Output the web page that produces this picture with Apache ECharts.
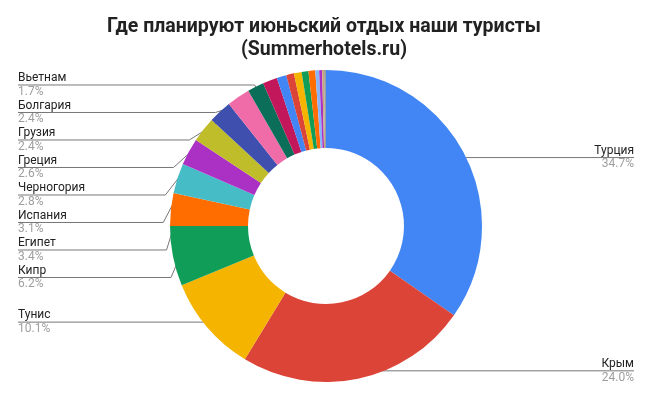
<!DOCTYPE html>
<html>
<head>
<meta charset="utf-8">
<script src="https://cdn.jsdelivr.net/npm/echarts@6/dist/echarts.min.js"></script>
<style>
  html, body { margin: 0; padding: 0; background: #fff; }
  #chart { width: 648px; height: 399px; }
</style>
</head>
<body>
<div id="chart"></div>
<script>
// направления (мелкие доли без подписей на картинке)
var countries = ['Турция', 'Крым', 'Тунис', 'Кипр', 'Египет', 'Испания', 'Черногория',
  'Греция', 'Грузия', 'Болгария', 'Вьетнам',
  'Прочие 1', 'Прочие 2', 'Прочие 3', 'Прочие 4', 'Прочие 5',
  'Прочие 6', 'Прочие 7', 'Прочие 8', 'Прочие 9', 'Прочие 10'];
var shares = [34.7, 24.0, 10.1, 6.2, 3.4, 3.1, 2.8, 2.6, 2.4, 2.4, 1.7,
  1.5, 1.0, 0.8, 0.8, 0.7, 0.7, 0.4, 0.3, 0.2, 0.2];
var sliceColors = ['#4285F4', '#DB4437', '#F4B400', '#0F9D58', '#FF6D00', '#46BDC6', '#AB30C4',
  '#C0BD2A', '#3F4FAE', '#F06CA8', '#0B6E59',
  '#C2185B', '#4285F4', '#DB4437', '#F4B400', '#0F9D58', '#FF6D00', '#8AB4F8', '#AB30C4', '#C9A97C', '#9E9E9E'];

var cx = 326, cy = 226, rIn = 78, rOut = 156, rDot = 148;

var myChart = echarts.init(document.getElementById('chart'));
myChart.setOption({
  backgroundColor: '#fff',
  animation: false,
  color: sliceColors,
  textStyle: { fontFamily: 'Roboto' },
  title: {
    text: 'Где планируют июньский отдых наши туристы\n(Summerhotels.ru)',
    left: 'center',
    top: 10,
    textStyle: {
      fontFamily: 'Roboto',
      fontSize: 19.5,
      fontWeight: 'bold',
      color: '#222',
      lineHeight: 23.5
    }
  },
  series: [{
    type: 'pie',
    center: [cx, cy],
    radius: [rIn, rOut],
    startAngle: 90,
    minShowLabelAngle: 6,
    avoidLabelOverlap: true,
    itemStyle: { borderWidth: 0 },
    label: {
      show: true,
      alignTo: 'edge',
      edgeDistance: 18,
      formatter: function (p) {
        return '{n|' + p.name + '}\n{p|' + p.percent.toFixed(1) + '%}';
      },
      rich: {
        n: { fontFamily: 'Roboto', fontSize: 12, color: '#222', lineHeight: 13.5 },
        p: { fontFamily: 'Roboto', fontSize: 12, color: '#9e9e9e', lineHeight: 13.5 }
      }
    },
    labelLine: {
      show: true,
      length: 2,
      length2: 10,
      lineStyle: { color: '#777', width: 1 }
    },
    labelLayout: function (p) {
      var pts = p.labelLinePoints;
      if (!pts) return {};
      var r = p.labelRect;
      var isLeft = r.x + r.width / 2 < cx;
      // line starts inside the slice, like the dot in the original
      var dx = pts[0][0] - cx, dy = pts[0][1] - cy;
      var k = rDot / Math.sqrt(dx * dx + dy * dy);
      pts[0] = [cx + dx * k, cy + dy * k];
      var endX = isLeft ? r.x : r.x + r.width;
      var midY = r.y + r.height / 2;
      var out = {};
      // the three big slices keep their labels level with the slice point
      if (p.dataIndex < 3) {
        midY = pts[0][1];
        out.y = midY;
        out.verticalAlign = 'middle';
        pts[1] = [pts[1][0], midY];
      }
      pts[pts.length - 1] = [endX, midY];
      out.labelLinePoints = pts;
      return out;
    },
    data: countries.map(function (c, i) {
      var item = { name: c, value: shares[i] };
      if (i < 2) item.label = { edgeDistance: 14 };
      return item;
    })
  }]
});
</script>
</body>
</html>
